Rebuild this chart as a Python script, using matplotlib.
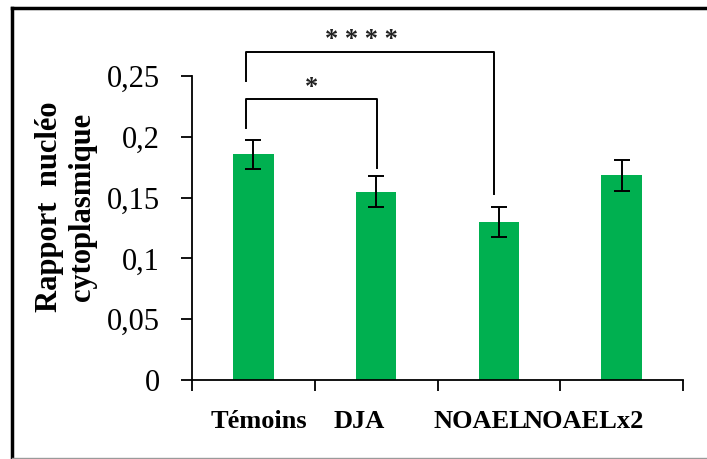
import numpy as np
import matplotlib
matplotlib.use("Agg")
import matplotlib.pyplot as plt
from matplotlib.lines import Line2D

# data
groupes = ["Témoins", "DJA", "NOAEL", "NOAELx2"]
moyennes = [0.1855, 0.1547, 0.1300, 0.1682]
erreurs = [0.0117, 0.0128, 0.0123, 0.0127]
yticks = [0, 0.05, 0.1, 0.15, 0.2, 0.25]
ytick_labels = ["0", "0,05", "0,1", "0,15", "0,2", "0,25"]

# the category labels are not centred under the bars in the original
label_x = [0.046, 0.860, 1.846, 2.695]

# significance brackets: (x left, x right, y top, y left leg end, y right leg end, label)
brackets = [
    (-0.063, 1.004, 0.231, 0.207, 0.1745, "*"),
    (-0.063, 1.962, 0.2695, 0.246, 0.153, "* * * *"),
]
star_pos = [(0.475, 0.2355), (0.88, 0.2745)]

plt.rcParams['font.family'] = ['Liberation Serif', 'DejaVu Serif']

fig = plt.figure(figsize=(7.07, 4.59), dpi=100)
ax = fig.add_axes([192 / 707, 1 - 380 / 459, (683 - 192) / 707, (380 - 76) / 459])

x = np.arange(len(groupes))
ax.bar(x, moyennes, width=0.33, color='#00B050', zorder=2)
ax.errorbar(x, moyennes, yerr=erreurs, fmt='none', ecolor='black',
            elinewidth=1.4, capsize=6, capthick=1.4, zorder=3)

ax.set_xlim(-0.5, 3.5)
ax.set_ylim(0, 0.25)
ax.set_yticks(yticks)
ax.set_yticklabels(ytick_labels, fontsize=22)
ax.tick_params(axis='y', direction='out', length=8, width=1.3, pad=15)

ax.set_xticks([])
ax.set_xticks(np.arange(-0.5, 4, 1), minor=True)
ax.tick_params(axis='x', which='minor', direction='out', length=8, width=1.3)
for lx, lab in zip(label_x, groupes):
    ax.text(lx, -48 / 304, lab, transform=ax.get_xaxis_transform(),
            ha='center', va='baseline', fontsize=19, fontweight='bold')

for side in ['top', 'right']:
    ax.spines[side].set_visible(False)
for side in ['left', 'bottom']:
    ax.spines[side].set_linewidth(1.3)

for (xl, xr, yt, yl, yr, lab), (sx, sy) in zip(brackets, star_pos):
    ax.plot([xl, xl, xr, xr], [yl, yt, yt, yr], color='black', lw=1.4,
            clip_on=False, zorder=4)
    ax.text(sx, sy, lab, ha='center', va='baseline', fontsize=19,
            fontweight='bold', color='#222222', clip_on=False)

fig.text(66 / 707, 1 - 207 / 459, "Rapport  nucléo\ncytoplasmique",
         rotation=90, ha='center', va='center', fontsize=22,
         fontweight='bold', multialignment='center', linespacing=1.15)

# frame around the picture
fig.add_artist(Line2D([12 / 707, 1], [1 - 8 / 459, 1 - 8 / 459],
                      transform=fig.transFigure, color='black', lw=2.5))
fig.add_artist(Line2D([12 / 707, 12 / 707], [0, 1 - 8 / 459],
                      transform=fig.transFigure, color='black', lw=2.5))
fig.add_artist(Line2D([12 / 707, 1], [1 / 459, 1 / 459],
                      transform=fig.transFigure, color='#9a9a9a', lw=1))

fig.savefig("out.png", dpi=100)
